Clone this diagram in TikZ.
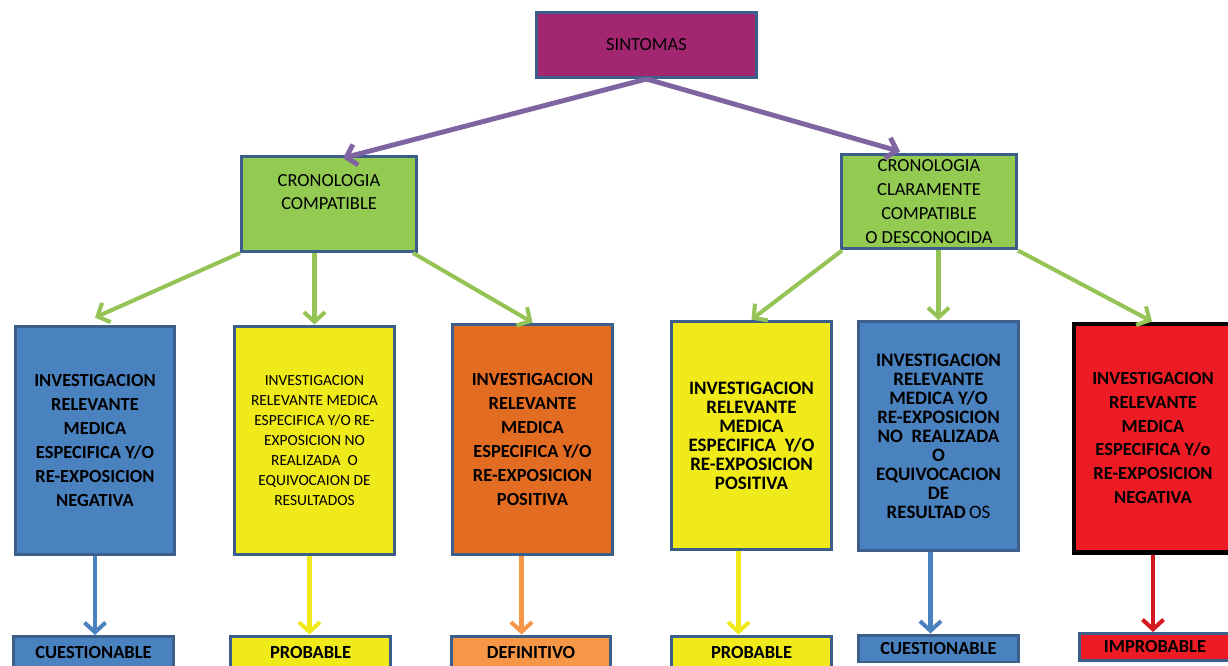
\documentclass[tikz,border=0pt]{standalone}
\usepackage{fontspec}
\setmainfont{Carlito}
\usepackage{tikz}
\usetikzlibrary{arrows.meta, positioning}
\definecolor{corBorde}{RGB}{59, 95, 138}
\definecolor{corMorado}{RGB}{163, 38, 112}
\definecolor{corFlechaMorada}{RGB}{128, 100, 162}
\definecolor{corVerde}{RGB}{146, 202, 82}
\definecolor{corFlechaVerde}{RGB}{150, 195, 85}
\definecolor{corAzul}{RGB}{74, 129, 191}
\definecolor{corAmarillo}{RGB}{240, 234, 26}
\definecolor{corNaranja}{RGB}{227, 108, 35}
\definecolor{corNaranjaClaro}{RGB}{247, 150, 70}
\definecolor{corRojo}{RGB}{237, 28, 36}

\begin{document}
\begin{tikzpicture}[x=0.02cm, y=-0.02cm,
    caja/.style={draw=corBorde, line width=1.7pt, align=center, inner sep=2pt,
                 text=black, font=\fontsize{10.5}{13.6}\selectfont},
    raiz/.style={caja, fill=corMorado, minimum width=4.4cm, minimum height=1.3cm},
    crono/.style={caja, fill=corVerde, minimum width=3.5cm, minimum height=1.9cm},
    inv/.style={caja, minimum width=3.2cm, minimum height=4.58cm,
                font=\bfseries\fontsize{10.5}{13.6}\selectfont},
    res/.style={caja, minimum width=3.2cm, minimum height=0.66cm,
                font=\bfseries\fontsize{10.5}{12}\selectfont},
    flecha/.style={line width=2.3pt, -{Straight Barb[length=5.5pt, width=12pt]}},
    compacto/.style={font=\bfseries\fontsize{10.8}{10.8}\selectfont}
]
\useasboundingbox (0,0) rectangle (1228,666);

\node[raiz] (sint) at (646.5,45) {SINTOMAS};
\node[crono] (cc) at (329,204) {CRONOLOGIA\\COMPATIBLE\\~};
\node[crono] (cr) at (929,201.5) {CRONOLOGIA\\CLARAMENTE\\COMPATIBLE\\O DESCONOCIDA};

\node[inv, fill=corAzul] (n1) at (95,440.5)
  {INVESTIGACION\\RELEVANTE\\MEDICA\\ESPECIFICA Y/O\\RE-EXPOSICION\\NEGATIVA};
\node[inv, fill=corAmarillo, font=\mdseries\fontsize{8.8}{11.4}\selectfont] (n2) at (314.5,440.5)
  {INVESTIGACION\\RELEVANTE MEDICA\\ESPECIFICA Y/O RE-\\EXPOSICION NO\\REALIZADA\ \ O\\EQUIVOCAION DE\\RESULTADOS};
\node[inv, fill=corNaranja, minimum height=4.62cm] (n3) at (532.5,439.5)
  {INVESTIGACION\\RELEVANTE\\MEDICA\\ESPECIFICA Y/O\\RE-EXPOSICION\\POSITIVA};
\node[inv, fill=corAmarillo, compacto] (n4) at (751.5,435.5)
  {INVESTIGACION\\RELEVANTE\\MEDICA\\ESPECIFICA\ \ Y/O\\RE-EXPOSICION\\POSITIVA};
\node[inv, fill=corAzul, compacto] (n5) at (938.5,436)
  {INVESTIGACION\\RELEVANTE\\MEDICA Y/O\\RE-EXPOSICION\\NO\ \ REALIZADA\\O\\EQUIVOCACION\\DE\\RESULTAD{\mdseries\,OS}};
\node[inv, fill=corRojo, draw=black, line width=2.3pt, minimum width=3.16cm] (n6) at (1153,438)
  {INVESTIGACION\\RELEVANTE\\MEDICA\\ESPECIFICA Y/o\\RE-EXPOSICION\\NEGATIVA};

\node[res, fill=corAzul] (r1) at (93.5,653) {CUESTIONABLE};
\node[res, fill=corAmarillo] (r2) at (310.5,652.5) {PROBABLE};
\node[res, fill=corNaranjaClaro] (r3) at (531,652.5) {DEFINITIVO};
\node[res, fill=corAmarillo] (r4) at (751.5,652.5) {PROBABLE};
\node[res, fill=corAzul, minimum height=0.54cm] (r5) at (938.5,648.5) {CUESTIONABLE};
\node[res, fill=corRojo, minimum width=3.04cm, minimum height=0.54cm] (r6) at (1155,647) {IMPROBABLE};

\draw[flecha, corFlechaMorada, line width=2.8pt] (sint.south) -- ([xshift=0.28cm, yshift=-0.06cm]cc.north);
\draw[flecha, corFlechaMorada, line width=2.8pt] (sint.south) -- ([xshift=-0.58cm, yshift=0.02cm]cr.north);

\draw[flecha, corFlechaVerde] (cc.south west) -- ([yshift=0.14cm]n1.north);
\draw[flecha, corFlechaVerde] (n2.north |- cc.south) -- (n2.north);
\draw[flecha, corFlechaVerde] ([xshift=-0.1cm]cc.south east) -- (n3.north);
\draw[flecha, corFlechaVerde] ([xshift=0.04cm]cr.south west) -- (n4.north);
\draw[flecha, corFlechaVerde] (n5.north |- cr.south) -- (n5.north);
\draw[flecha, corFlechaVerde] (cr.south east) -- ([xshift=-0.02cm]n6.north);

\draw[flecha, corAzul] (n1.south) -- (n1.south |- r1.north);
\draw[flecha, corAmarillo] ([xshift=-0.1cm]n2.south) -- ([xshift=-0.1cm]n2.south |- r2.north);
\draw[flecha, corNaranjaClaro] ([xshift=-0.22cm]n3.south) -- ([xshift=-0.22cm]n3.south |- r3.north);
\draw[flecha, corAmarillo] ([xshift=-0.26cm]n4.south) -- ([xshift=-0.26cm]n4.south |- r4.north);
\draw[flecha, corAzul] ([xshift=-0.16cm]n5.south) -- ([xshift=-0.16cm]n5.south |- r5.north);
\draw[flecha, corRojo!90!black] (n6.south) -- (n6.south |- r6.north);
\end{tikzpicture}
\end{document}
